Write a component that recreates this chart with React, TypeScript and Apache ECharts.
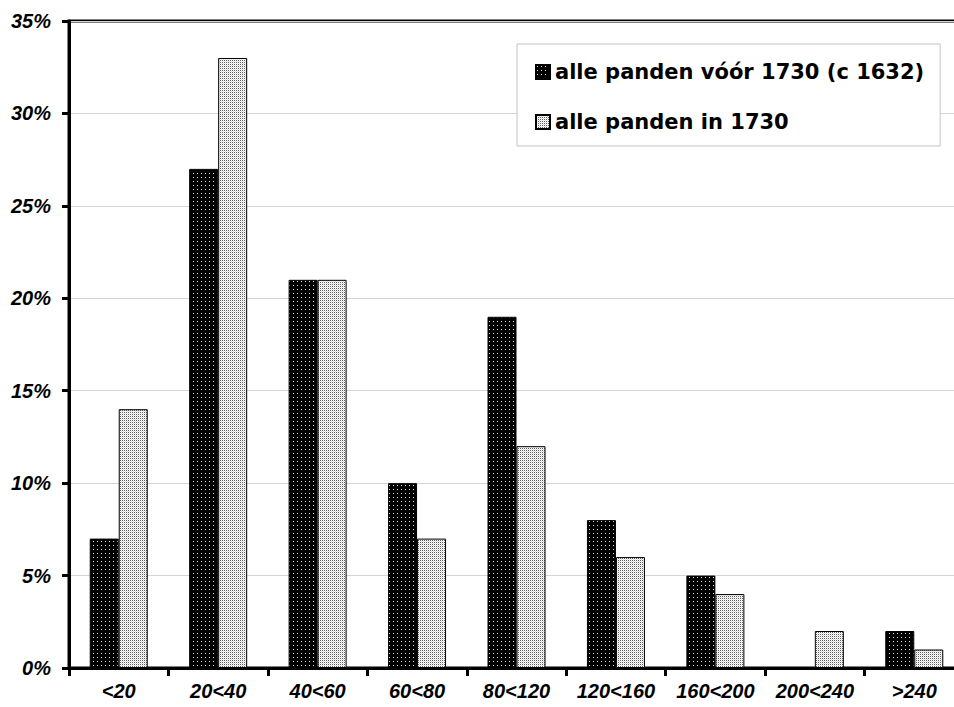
import React, { useEffect, useRef } from "react";
import * as echarts from "echarts";

const categories = ["<20", "20<40", "40<60", "60<80", "80<120", "120<160", "160<200", "200<240", ">240"];
const seriesNames = ["alle panden vóór 1730 (c 1632)", "alle panden in 1730"];
const before1730 = [7, 27, 21, 10, 19, 8, 5, 0, 2];
const in1730 = [14, 33, 21, 7, 12, 6, 4, 2, 1];
const yTicks = [0, 5, 10, 15, 20, 25, 30, 35];

function makePattern(size: number, bg: string, dots: [number, number, string][]) {
  const c = document.createElement("canvas");
  c.width = size;
  c.height = size;
  const ctx = c.getContext("2d")!;
  ctx.fillStyle = bg;
  ctx.fillRect(0, 0, size, size);
  dots.forEach(([x, y, col]) => {
    ctx.fillStyle = col;
    ctx.fillRect(x, y, 1, 1);
  });
  return { image: c, repeat: "repeat", imageWidth: size, imageHeight: size } as any;
}

export default function App() {
  const ref = useRef<HTMLDivElement>(null);
  useEffect(() => {
    if (!ref.current) return;
    const chart = echarts.init(ref.current, null, { renderer: "svg" });
    const darkPat = makePattern(4, "#000", [[1, 1, "#e0e0e0"]]);
    const lightPat = makePattern(2, "#fff", [[0, 0, "#5e5e5e"], [1, 1, "#e0e0e0"]]);
    const labelFont = {
      fontFamily: "Liberation Sans, Arial, sans-serif",
      fontWeight: "bold" as const,
      fontStyle: "italic" as const,
      fontSize: 20,
      color: "#000",
    };
    chart.setOption({
      animation: false,
      backgroundColor: "#fff",
      grid: {
        left: 69,
        right: 0,
        top: 21,
        bottom: 39,
        show: true,
        borderColor: "#000",
        borderWidth: 3,
        backgroundColor: "transparent",
      },
      legend: {
        orient: "vertical",
        left: 517,
        top: 44,
        padding: [16, 16, 12, 18],
        itemGap: 26,
        itemWidth: 14,
        itemHeight: 14,
        icon: "rect",
        backgroundColor: "#fff",
        borderColor: "#c4c4c4",
        borderWidth: 1,
        borderRadius: 0,
        textStyle: {
          fontFamily: "DejaVu Sans, sans-serif",
          fontWeight: "bold",
          fontSize: 21,
          lineHeight: 24,
          color: "#000",
        },
        data: seriesNames,
      },
      xAxis: {
        type: "category",
        data: categories,
        boundaryGap: true,
        axisLine: { show: true, lineStyle: { color: "#000", width: 3 } },
        axisTick: { show: true, interval: 0, length: 8, lineStyle: { color: "#000", width: 3 } },
        axisLabel: { ...labelFont, interval: 0, margin: 13 },
        splitLine: { show: false },
      },
      yAxis: {
        type: "value",
        min: yTicks[0],
        max: yTicks[yTicks.length - 1],
        interval: 5,
        axisLine: { show: true, lineStyle: { color: "#000", width: 3 } },
        axisTick: { show: true, length: 7, lineStyle: { color: "#000", width: 3 } },
        axisLabel: { ...labelFont, margin: 18, formatter: "{value}%" },
        splitLine: { show: true, lineStyle: { color: "#d4d4d4", width: 1 } },
      },
      series: [
        {
          name: seriesNames[0],
          type: "bar",
          data: before1730,
          barWidth: 29,
          barGap: "0%",
          itemStyle: { color: darkPat, borderColor: "#000", borderWidth: 1 },
        },
        {
          name: seriesNames[1],
          type: "bar",
          data: in1730,
          barWidth: 29,
          barGap: "0%",
          itemStyle: { color: lightPat, borderColor: "#000", borderWidth: 1 },
        },
      ],
    });
    return () => chart.dispose();
  }, []);
  return (
    <div style={{ position: "absolute", left: 0, top: 0, width: 954, height: 707, overflow: "hidden", background: "#fff" }}>
      <div ref={ref} style={{ width: 964, height: 707 }} />
    </div>
  );
}
